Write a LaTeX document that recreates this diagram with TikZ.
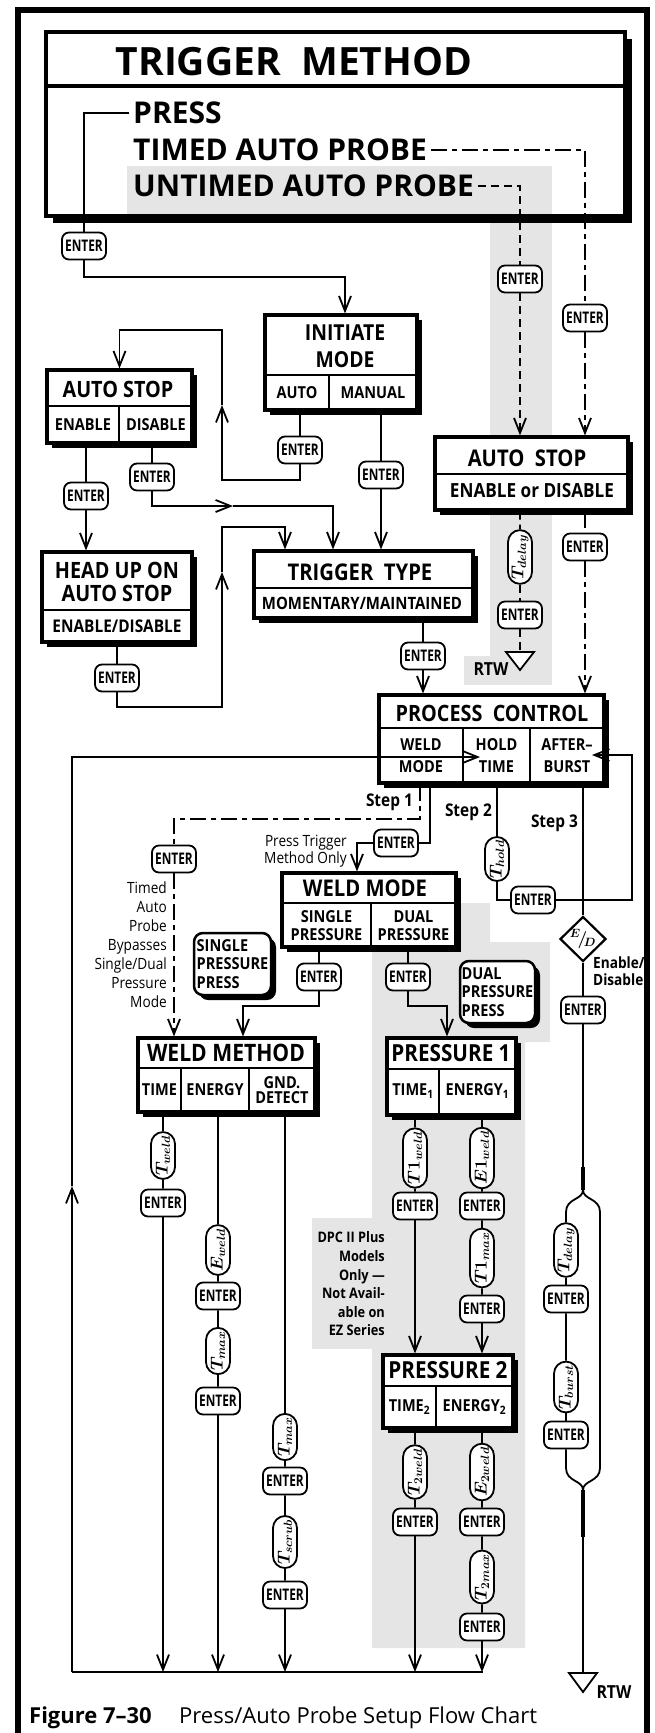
\documentclass[tikz,border=0pt]{standalone}
\usepackage{fontspec}
\setmainfont{Open Sans}
\newfontfamily\cf[FakeStretch=0.88]{Open Sans}
\newfontfamily\ef[FakeStretch=0.74]{Open Sans}
\usetikzlibrary{arrows.meta, shapes.misc, shapes.geometric, shadows}
\newcommand\fsz[2]{\fontsize{#1}{#2}\selectfont}
\definecolor{bgray}{gray}{0.9}

\begin{document}
\begin{tikzpicture}[x=1pt, y=-1pt,
    conn/.style={line width=1.8pt},
    thk/.style={line width=3.6pt},
    arrowhd/.style={-{Straight Barb[length=15pt, width=12pt]}},
    arr/.style={conn, arrowhd},
    dashln/.style={conn, dash pattern=on 8pt off 5pt},
    dotln/.style={conn, dash pattern=on 16pt off 5pt on 5pt off 5pt},
    box/.style={draw, line width=3.2pt, fill=white, inner sep=0,
        drop shadow={shadow xshift=#1, shadow yshift=-#1, opacity=1, fill=black}},
    box/.default=4.5pt,
    divl/.style={line width=2.5pt},
    ttl/.style={font=\cf\bfseries\fsz{22.5}{26}, align=center, inner sep=0},
    cel/.style={font=\cf\bfseries\fsz{16.5}{19}, align=center, inner sep=0},
    big/.style={font=\bfseries\fsz{30}{30}, inner sep=4pt, anchor=west},
    enterkey/.style={draw, line width=1.8pt, rounded corners=7pt, fill=white,
        minimum width=44pt, minimum height=27pt, inner sep=0, font=\ef\bfseries\fsz{16}{16}},
    pill/.style={draw, line width=1.8pt, rounded rectangle, fill=white, rotate=90,
        minimum width=46pt, minimum height=24pt, inner sep=1pt, font=\fsz{18.5}{18}\boldmath},
    diam/.style={draw, diamond, line width=2.2pt, fill=white, minimum width=46pt,
        minimum height=38pt, inner sep=0, font=\fsz{17}{17}\boldmath},
    callout/.style={draw, line width=2.5pt, rounded corners=9pt, fill=white, inner sep=0,
        drop shadow={shadow xshift=5pt, shadow yshift=-5pt, opacity=1, fill=black},
        font=\cf\bfseries\fsz{16.5}{18.5}, align=left},
    lbl/.style={font=\cf\bfseries\fsz{17.5}{18}, inner sep=0},
    remark/.style={font=\cf\fsz{15.5}{19}, align=right, anchor=east, inner sep=0}
]
\useasboundingbox (0,0) rectangle (654,1733);

% ============================================
% FONDOS GRISES
% ============================================
\fill[bgray] (490,200) rectangle (552,685);
\fill[bgray] (464,656) rectangle (490,685);
\fill[bgray] (372,903) -- (490,903) -- (490,942) -- (550,942) -- (550,1042)
    -- (525,1042) -- (525,1648) -- (372,1648) -- cycle;
\fill[bgray] (312,1218) rectangle (372,1349);

% Marco exterior
\draw[line width=5.5pt] (18,1733) -- (18,10) -- (647,10) -- (647,1733);

% ============================================
% TRIGGER METHOD
% ============================================
\node[box=6.5pt, line width=4.5pt, minimum width=579pt, minimum height=184pt] (tm) at (335.5,124) {};
\draw[divl, line width=3.5pt] (46,86) -- (625,86);
\fill[bgray] (127,166) rectangle (552,213.5);
\node[font=\bfseries\fsz{39}{39}, inner sep=0] (tmT) at (294,62) {TRIGGER\ \ METHOD};
\node[big] (press) at (129,113) {PRESS};
\node[big] (timed) at (129,150) {TIMED AUTO PROBE};
\node[big] (untimed) at (129,186) {UNTIMED AUTO PROBE};

% ============================================
% INITIATE MODE
% ============================================
\node[box, minimum width=152pt, minimum height=95pt] (im) at (341,362.5) {};
\draw[divl] (265,375) -- (417,375);
\draw[divl] (329,375) -- (329,410);
\node[ttl, font=\cf\bfseries\fsz{22}{27}] (imT) at (345,346) {INITIATE\\MODE};
\node[cel] (imA) at (297,393) {AUTO};
\node[cel] (imM) at (373,393) {MANUAL};

% ============================================
% AUTO STOP (izquierda) y HEAD UP
% ============================================
\node[box, minimum width=145pt, minimum height=73pt] (asL) at (119.5,406.5) {};
\draw[divl] (47,406) -- (192,406);
\draw[divl] (119,406) -- (119,443);
\node[ttl] (asLT) at (118,389) {AUTO STOP};
\node[cel] (asLE) at (83,425) {ENABLE};
\node[cel] (asLD) at (156,425) {DISABLE};

\node[box, minimum width=150pt, minimum height=90pt] (hu) at (117,597) {};
\draw[divl] (42,610) -- (192,610);
\node[ttl, font=\cf\bfseries\fsz{22.5}{23}] (huT) at (117,581.5) {HEAD UP ON\\AUTO STOP};
\node[cel, font=\cf\bfseries\fsz{17.5}{19}] (huE) at (117,626) {ENABLE/DISABLE};

% ============================================
% TRIGGER TYPE
% ============================================
\node[box, minimum width=219pt, minimum height=67pt] (tt) at (363.5,584.5) {};
\draw[divl] (254,588) -- (473,588);
\node[ttl, font=\cf\bfseries\fsz{23}{23}] (ttT) at (360,572) {TRIGGER\ \ TYPE};
\node[cel, font=\cf\bfseries\fsz{17}{19}] (ttM) at (362,603.5) {MOMENTARY/MAINTAINED};

% ============================================
% AUTO STOP (derecha)
% ============================================
\node[box, minimum width=193pt, minimum height=73pt] (asR) at (531.5,473.5) {};
\draw[divl] (435,474) -- (628,474);
\node[ttl, font=\cf\bfseries\fsz{23}{23}] (asRT) at (527,458) {AUTO\ \ STOP};
\node[cel, font=\cf\bfseries\fsz{19.5}{20}] (asRE) at (532,491) {ENABLE or DISABLE};

% ============================================
% PROCESS CONTROL
% ============================================
\node[box, minimum width=225pt, minimum height=88pt] (pc) at (491.5,739) {};
\draw[divl] (379,728) -- (604,728);
\draw[divl] (463,728) -- (463,783);
\draw[divl] (530,728) -- (530,783);
\node[ttl] (pcT) at (492,713) {PROCESS\ \ CONTROL};
\node[cel, font=\cf\bfseries\fsz{16.5}{22}] (pcW) at (421,756) {WELD\\MODE};
\node[cel, font=\cf\bfseries\fsz{16.5}{22}] (pcH) at (496.5,756) {HOLD\\TIME};
\node[cel, font=\cf\bfseries\fsz{16.5}{22}] (pcA) at (567,756) {AFTER–\\BURST};

% ============================================
% WELD MODE y notas
% ============================================
\node[box, minimum width=174pt, minimum height=74pt] (wmd) at (369,910) {};
\draw[divl] (282,903) -- (456,903);
\draw[divl] (371,903) -- (371,947);
\node[ttl, font=\cf\bfseries\fsz{23}{23}] (wmdT) at (365,888.5) {WELD MODE};
\node[cel, font=\cf\bfseries\fsz{16.5}{17.5}] (wmdS) at (326.5,925.5) {SINGLE\\PRESSURE};
\node[cel, font=\cf\bfseries\fsz{16.5}{17.5}] (wmdD) at (413.5,925.5) {DUAL\\PRESSURE};

\node[callout, minimum width=77pt, minimum height=62pt] (sp) at (232.5,964) {SINGLE\\PRESSURE\\PRESS};
\node[callout, minimum width=75pt, minimum height=62pt] (dp) at (497.5,992) {DUAL\\PRESSURE\\PRESS};

% ============================================
% WELD METHOD
% ============================================
\node[box, minimum width=177pt, minimum height=74pt] (wme) at (226.5,1075) {};
\draw[divl] (138,1068) -- (315,1068);
\draw[divl] (181,1068) -- (181,1112);
\draw[divl] (249,1068) -- (249,1112);
\node[ttl, font=\cf\bfseries\fsz{24}{24}] (wmeT) at (226,1053) {WELD METHOD};
\node[cel] (wmeA) at (159.5,1090) {TIME};
\node[cel] (wmeB) at (215,1090) {ENERGY};
\node[cel, font=\cf\bfseries\fsz{16.5}{15}] (wmeC) at (282,1090) {GND.\\DETECT};

% ============================================
% PRESSURE 1 y PRESSURE 2
% ============================================
\node[box, minimum width=129pt, minimum height=77pt] (p1) at (451.5,1076.5) {};
\draw[divl] (387,1069) -- (516,1069);
\draw[divl] (439,1069) -- (439,1115);
\node[ttl, font=\cf\bfseries\fsz{23.5}{24}] (p1T) at (451,1053) {PRESSURE 1};
\node[cel] (p1A) at (413,1091) {TIME\textsubscript{1}};
\node[cel] (p1B) at (477.5,1091) {ENERGY\textsubscript{1}};

\node[box, minimum width=130pt, minimum height=73pt] (p2) at (448,1391.5) {};
\draw[divl] (383,1386) -- (513,1386);
\draw[divl] (436,1386) -- (436,1428);
\node[ttl, font=\cf\bfseries\fsz{23.5}{24}] (p2T) at (448,1370.5) {PRESSURE 2};
\node[cel] (p2A) at (409.5,1407) {TIME\textsubscript{2}};
\node[cel] (p2B) at (474.5,1407) {ENERGY\textsubscript{2}};

% ============================================
% TECLAS ENTER
% ============================================
\node[enterkey] (e1) at (84,246) {ENTER};
\node[enterkey] (e2) at (300,450) {ENTER};
\node[enterkey] (e3) at (381,475) {ENTER};
\node[enterkey] (e4) at (86,496) {ENTER};
\node[enterkey] (e5) at (152,477) {ENTER};
\node[enterkey] (e6) at (117,678) {ENTER};
\node[enterkey] (e7) at (423,656) {ENTER};
\node[enterkey] (e8) at (585,318) {ENTER};
\node[enterkey] (e9) at (585,547) {ENTER};
\node[enterkey] (e10) at (520,279) {ENTER};
\node[enterkey] (e11) at (520,615) {ENTER};
\node[enterkey] (e12) at (533,900) {ENTER};
\node[enterkey] (e13) at (174,859) {ENTER};
\node[enterkey] (e14) at (396,843) {ENTER};
\node[enterkey] (e15) at (583,1010) {ENTER};
\node[enterkey] (e16) at (319,977) {ENTER};
\node[enterkey] (e17) at (408,977) {ENTER};
\node[enterkey] (e18) at (163,1203) {ENTER};
\node[enterkey] (e19) at (218,1296) {ENTER};
\node[enterkey] (e20) at (218,1401) {ENTER};
\node[enterkey] (e21) at (285,1481) {ENTER};
\node[enterkey] (e22) at (285,1595) {ENTER};
\node[enterkey] (e23) at (415,1206) {ENTER};
\node[enterkey] (e24) at (482,1206) {ENTER};
\node[enterkey] (e25) at (482,1309) {ENTER};
\node[enterkey] (e26) at (415,1522) {ENTER};
\node[enterkey] (e27) at (482,1522) {ENTER};
\node[enterkey] (e28) at (482,1627) {ENTER};
\node[enterkey] (e29) at (566,1299) {ENTER};
\node[enterkey] (e30) at (566,1435) {ENTER};

% ============================================
% TIEMPOS
% ============================================
\node[pill] (cd1) at (520,557) {$T_{delay}$};
\node[pill] (ch) at (497,859) {$T_{hold}$};
\node[pill] (cw1) at (163,1155.5) {$T_{weld}$};
\node[pill] (cE) at (218,1250) {$E_{weld}$};
\node[pill] (cTm) at (218,1351) {$T_{max}$};
\node[pill] (cTm2) at (285,1437) {$T_{max}$};
\node[pill] (cTs) at (285,1542) {$T_{scrub}$};
\node[pill] (cT1) at (415,1158) {$T1_{weld}$};
\node[pill] (cE1) at (482,1158) {$E1_{weld}$};
\node[pill] (cT1m) at (482,1258) {$T1_{max}$};
\node[pill] (cT2) at (415,1472) {$T_{2weld}$};
\node[pill] (cE2) at (482,1472) {$E_{2weld}$};
\node[pill] (cT2m) at (482,1577) {$T_{2max}$};
\node[pill] (cd2) at (566,1250) {$T_{delay}$};
\node[pill] (cb) at (566,1387) {$T_{burst}$};
\node[diam] (ed) at (583,939) {$^{E}\!/\!_{D}$};

% ============================================
% TEXTOS
% ============================================
\node[lbl, anchor=east] (st1) at (413,802) {Step 1};
\node[lbl, anchor=east] (st2) at (492,812) {Step 2};
\node[lbl, anchor=east] (st3) at (578,823) {Step 3};
\node[remark, font=\cf\fsz{15.5}{17}] (ptm) at (347,851) {Press Trigger\\Method Only};
\node[remark] (tap) at (167,945) {Timed\\Auto\\Probe\\Bypasses\\Single/Dual\\Pressure\\Mode};
\node[remark, font=\cf\bfseries\fsz{14.5}{18.6}] (dpc) at (385,1284)
    {DPC II Plus\\Models\\Only —\\Not Avail-\\able on\\EZ Series};
\node[lbl, font=\cf\bfseries\fsz{15.5}{17}, anchor=west, align=left] (edl) at (593,971) {Enable/\\Disable};
\node[lbl, font=\cf\bfseries\fsz{18}{18}] (rtw1) at (491,669) {RTW};
\node[lbl, font=\cf\bfseries\fsz{18}{18}] (rtw2) at (614,1692) {RTW};
\node[font=\bfseries\fsz{22}{22}, anchor=base west, inner sep=0] (figno) at (29,1723) {Figure 7–30};
\node[font=\fsz{22}{22}, anchor=base west, inner sep=0] (figttl) at (179,1723) {Press/Auto Probe Setup Flow Chart};

% ============================================
% CONEXIONES
% ============================================
\coordinate (j1) at (345,277);
\coordinate (k1) at (222,480);
\coordinate (k2) at (222,405);
\coordinate (k3) at (222,330);
\coordinate (m1) at (233,506);
\coordinate (m2) at (333,506);
\coordinate (n1) at (222,707);
\coordinate (n2) at (222,572);
\coordinate (n3) at (222,527);
\coordinate (n4) at (285,527);
\coordinate (rtwA) at (520,652);
\coordinate (rtwB) at (583,1673);
\coordinate (bc1) at (72,1672);
\coordinate (bc2) at (483,1672);
\coordinate (q1) at (72,1186);
\coordinate (q2) at (480,757);
\coordinate (r1) at (632,900);
\coordinate (r2) at (592,755);
\coordinate (s1) at (420,819);
\coordinate (s2) at (430,843);
\coordinate (s3) at (357,843);
\coordinate (t1) at (243,1006);
\coordinate (t2) at (447,1006);
\coordinate (b0) at (583,1167);
\coordinate (b1) at (583,1190);
\coordinate (b2) at (583,1490);
\coordinate (b3) at (583,1537);

% PRESS
\draw[conn] (press.west) -| (e1);
\draw[arr] (e1) |- (j1) -- (j1 |- im.north);
\draw[conn] (im.south -| e2) -- (e2);
\draw[arr] (e2) |- (k1) -- (k2);
\draw[arr] (k2) -- (k3) -| (asL.north);
\draw[conn] (im.south -| e3) -- (e3);
\draw[arr] (e3) -- (e3 |- tt.north);
\draw[conn] (asL.south -| e4) -- (e4);
\draw[arr] (e4) -- (e4 |- hu.north);
\draw[conn] (asL.south -| e5) -- (e5);
\draw[arr] (e5) |- (m1);
\draw[arr] (m1) -- (m2) -- (m2 |- tt.north);
\draw[conn] (hu.south -| e6) -- (e6);
\draw[arr] (e6) |- (n1) -- (n2);
\draw[arr] (n2) -- (n3) -- (n4) -- (n4 |- tt.north);
\draw[conn] (tt.south -| e7) -- (e7);
\draw[arr] (e7) -- (e7 |- pc.north);

% TIMED / UNTIMED AUTO PROBE
\draw[dotln] (timed.east) -| (e8);
\draw[dotln, arrowhd] (e8) -- (e8 |- asR.north);
\draw[dotln] (asR.south -| e9) -- (e9);
\draw[dotln, arrowhd] (e9) -- (e9 |- pc.north);
\draw[dashln] (untimed.east) -| (e10);
\draw[dashln, arrowhd] (e10) -- (e10 |- asR.north);
\draw[dashln] (asR.south -| cd1) -- (cd1);
\draw[dashln] (cd1) -- (e11);
\draw[dashln] (e11) -- (rtwA);
\draw[conn, fill=white] (rtwA) ++(-14,0) -- ++(28,0) -- ++(-14,18) -- cycle;

% Lazos de retorno
\draw[conn] (bc1) -- (bc2);
\draw[arr] (bc1) -- (q1);
\draw[arr] (q1) |- (q2);
\draw[arr] (e12) -- (r1) |- (r2);

% Step 1 / 2 / 3
\draw[dotln] (pc.south -| s1) -- (s1) -| (e13);
\draw[dotln, arrowhd] (e13) -- (e13 |- wme.north);
\draw[conn] (pc.south -| s2) -- (s2) -- (e14);
\draw[arr] (e14) -- (s3) -- (s3 |- wmd.north);
\draw[conn] (pc.south -| ch) -- (ch);
\draw[conn] (ch) |- (e12);
\draw[conn] (pc.south -| ed) -- (ed);
\draw[conn] (ed) -- (e15);
\draw[conn] (e15) -- (b0);
\draw[thk] (b0) -- (b1);
\draw[conn] (b1) .. controls (583,1200) and (566,1198) .. (566,1212) -- (cd2);
\draw[conn] (cd2) -- (e29);
\draw[conn] (e29) -- (cb);
\draw[conn] (cb) -- (e30);
\draw[conn] (e30) -- (566,1468) .. controls (566,1482) and (583,1480) .. (b2);
\draw[conn] (b1) .. controls (583,1200) and (600,1198) .. (600,1212)
    -- (600,1468) .. controls (600,1482) and (583,1480) .. (b2);
\draw[thk] (b2) -- (b3);
\draw[conn] (b3) -- (rtwB);
\draw[conn, fill=white] (rtwB) ++(-14,0) -- ++(28,0) -- ++(-14,19) -- cycle;

% WELD MODE
\draw[conn] (wmd.south -| e16) -- (e16);
\draw[arr] (e16) |- (t1) -- (t1 |- wme.north);
\draw[conn] (wmd.south -| e17) -- (e17);
\draw[arr] (e17) |- (t2) -- (t2 |- p1.north);

% Columnas WELD METHOD
\draw[conn] (wme.south -| cw1) -- (cw1) -- (e18);
\draw[arr] (e18) -- (e18 |- bc1);
\draw[conn] (wme.south -| cE) -- (cE) -- (e19) -- (cTm) -- (e20);
\draw[arr] (e20) -- (e20 |- bc1);
\draw[conn] (wme.south -| cTm2) -- (cTm2) -- (e21) -- (cTs) -- (e22);
\draw[arr] (e22) -- (e22 |- bc1);

% Columnas PRESSURE 1 / 2
\draw[conn] (p1.south -| cT1) -- (cT1) -- (e23);
\draw[arr] (e23) -- (e23 |- p2.north);
\draw[conn] (p1.south -| cE1) -- (cE1) -- (e24) -- (cT1m) -- (e25);
\draw[arr] (e25) -- (e25 |- p2.north);
\draw[conn] (p2.south -| cT2) -- (cT2) -- (e26);
\draw[arr] (e26) -- (e26 |- bc1);
\draw[conn] (p2.south -| cE2) -- (cE2) -- (e27) -- (cT2m) -- (e28);
\draw[arr] (e28) -- (e28 |- bc1);

\end{tikzpicture}
\end{document}
